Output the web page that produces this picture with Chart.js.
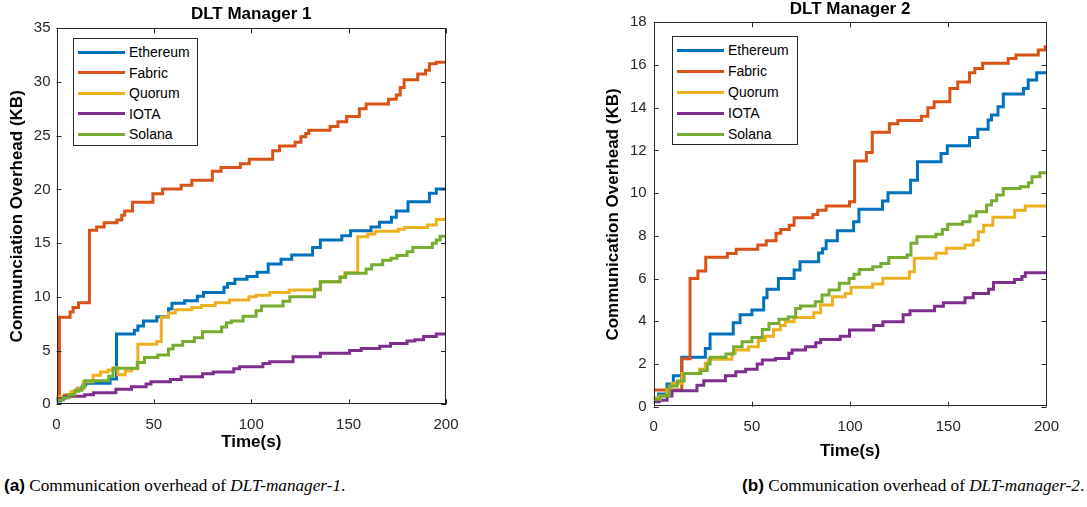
<!DOCTYPE html>
<html>
<head>
<meta charset="utf-8">
<script src="https://cdn.jsdelivr.net/npm/chart.js@4.4.1/dist/chart.umd.min.js"></script>
<style>
    body {
        margin: 0;
        width: 1087px;
        height: 507px;
        background: #ffffff;
        position: relative;
        overflow: hidden;
        font-family: "Liberation Sans", Arial, sans-serif;
    }
    .panel {
        position: absolute;
        top: 0;
    }
    .legend {
        position: absolute;
        border: 1px solid #262626;
        background: #ffffff;
        box-sizing: border-box;
        font-size: 14px;
        color: #000;
    }
    .legend .item {
        position: absolute;
        height: 16px;
        line-height: 16px;
        white-space: nowrap;
    }
    .legend .swatch {
        position: absolute;
        top: 6.5px;
        height: 3px;
    }
    .caption {
        position: absolute;
        top: 475px;
        font-family: "Liberation Serif", "Times New Roman", serif;
        font-size: 17.2px;
        color: #000;
        white-space: nowrap;
    }
    .caption b {
        font-family: "Liberation Sans", Arial, sans-serif;
        font-weight: bold;
    }
</style>
</head>
<body>

<div class="panel" style="left:0px"><canvas id="chart1"></canvas></div>
<div class="panel" style="left:540px"><canvas id="chart2"></canvas></div>

<div class="legend" id="legend1" style="left:73px; top:38px; width:125px; height:108px"></div>
<div class="legend" id="legend2" style="left:672px; top:36px; width:126px; height:109px"></div>

<div class="caption" style="left:4px"><b>(a)</b> Communication overhead of <i>DLT-manager-1</i>.</div>
<div class="caption" style="left:742px"><b>(b)</b> Communication overhead of <i>DLT-manager-2</i>.</div>

<script>
// series names and matlab default colours
const seriesNames = ['Ethereum', 'Fabric', 'Quorum', 'IOTA', 'Solana'];
const seriesColors = ['#0072BD', '#D95319', '#EDB120', '#7E2F8E', '#77AC30'];

const xTicks = [0, 50, 100, 150, 200];
const yTicks1 = [0, 5, 10, 15, 20, 25, 30, 35];
const yTicks2 = [0, 2, 4, 6, 8, 10, 12, 14, 16, 18];

// ---- DLT Manager 1 : time (s) where the step starts, value (KB) after the step
const eth1T = [0, 2, 5, 8, 11, 13.5, 15, 27.5, 30.8, 40, 41.8, 44.7, 51.5, 57.5, 59.3, 65.8, 72.3, 75.5, 86, 87.8, 91.6, 97.8, 103, 108.7, 115.3, 120.8, 131.5, 135.5, 146.5, 151, 161.5, 165.8, 172, 174.5, 180.5, 191.5, 195, 200];
const eth1V = [0.3, 0.6, 0.9, 1.2, 1.5, 1.8, 1.95, 2.35, 6.55, 6.9, 7.3, 7.75, 8.15, 8.9, 9.4, 9.65, 10.05, 10.4, 10.9, 11.25, 11.65, 11.9, 12.3, 13.05, 13.5, 13.9, 14.6, 15.3, 15.7, 16.15, 16.5, 16.95, 17.4, 18.0, 18.85, 19.65, 20.05, 20.1];

const fab1T = [0, 1.5, 7, 8.5, 11.3, 16.9, 20.6, 24.5, 31, 33.5, 35, 39, 49.5, 54.5, 64, 69.5, 80, 84.5, 94.4, 99, 111, 114.5, 122.5, 125.5, 128, 129.5, 140.5, 144.5, 149, 155.5, 159, 170.5, 174.5, 176.5, 178.5, 185.5, 189.5, 191.5, 195, 200];
const fab1V = [0.5, 8.1, 8.6, 9.0, 9.45, 16.2, 16.5, 16.9, 17.15, 17.6, 18.0, 18.8, 19.6, 20.05, 20.4, 20.85, 21.7, 22.05, 22.4, 22.8, 23.6, 24.05, 24.4, 24.9, 25.2, 25.5, 25.85, 26.3, 26.8, 27.5, 27.95, 28.4, 28.8, 29.5, 30.2, 30.75, 31.1, 31.7, 31.85, 31.9];

const quo1T = [0, 4, 7.5, 10.5, 13.8, 18.8, 22.6, 26.5, 29.5, 31.5, 35.3, 38.5, 41.8, 51.5, 53.8, 57.5, 61, 69.5, 74.5, 81.5, 88.8, 98.8, 102.5, 109.5, 119.5, 135.5, 145.8, 148, 154.7, 159.8, 163.5, 175.5, 178.7, 190.5, 195, 200];
const quo1V = [0.7, 0.9, 1.2, 1.45, 2.1, 2.7, 3.0, 3.2, 3.4, 2.75, 3.1, 3.3, 5.6, 5.85, 8.1, 8.5, 8.8, 9.0, 9.2, 9.45, 9.7, 10.0, 10.15, 10.4, 10.65, 11.4, 11.9, 12.25, 15.6, 15.85, 16.1, 16.3, 16.45, 16.7, 17.2, 17.3];

const iota1T = [0, 4, 14.5, 19, 30.5, 38.5, 46, 48.5, 58.5, 64, 75, 80.5, 91, 94, 106, 109.5, 121.5, 135.5, 150.5, 156.5, 166, 171.5, 180, 184, 188.5, 195, 200];
const iota1V = [0.55, 0.75, 0.9, 1.08, 1.4, 1.64, 1.9, 2.1, 2.3, 2.57, 2.85, 3.0, 3.3, 3.5, 3.8, 3.96, 4.43, 4.75, 5.0, 5.2, 5.4, 5.67, 5.9, 6.0, 6.3, 6.55, 6.6];

const sol1T = [0, 3.5, 6.5, 9.5, 13, 14.5, 26.8, 29, 41.5, 45.2, 52, 57.5, 59.8, 64.8, 70.8, 75, 84.8, 87.3, 89.8, 95.8, 102.5, 105.3, 116.3, 119.8, 132.5, 135.5, 145.5, 148.5, 159, 161.8, 167.5, 171.8, 174.8, 180, 183, 193, 195, 197, 200];
const sol1V = [0.4, 0.6, 0.9, 1.3, 1.6, 2.2, 2.6, 3.35, 3.9, 4.35, 4.6, 5.15, 5.5, 5.85, 6.2, 6.75, 7.2, 7.6, 7.75, 8.2, 8.7, 9.15, 9.6, 10.0, 10.7, 11.4, 11.8, 12.2, 12.6, 13.0, 13.4, 13.6, 13.85, 14.2, 14.6, 15.0, 15.3, 15.65, 15.7];

// ---- DLT Manager 2
const eth2T = [0, 2.5, 6.8, 10, 14.3, 26.3, 28.7, 40.5, 44, 50, 56, 57.7, 63.5, 71.5, 74.5, 84, 86, 87.8, 93.5, 101.8, 104.5, 116.5, 119.3, 130.8, 134.3, 146.3, 149.5, 160.8, 165, 170.3, 172, 175.3, 178, 188.3, 190.7, 195, 200];
const eth2V = [0.39, 0.6, 1.06, 1.45, 2.31, 2.73, 3.4, 3.93, 4.3, 4.53, 5.1, 5.5, 6.0, 6.4, 6.79, 7.2, 7.4, 7.77, 8.24, 8.66, 9.24, 9.63, 10.02, 10.6, 11.47, 11.86, 12.22, 12.61, 12.99, 13.42, 13.66, 14.05, 14.64, 14.9, 15.3, 15.64, 15.64];

const fab2T = [0, 14.3, 18.5, 22.5, 26.5, 37.5, 42, 53, 57.3, 62.3, 64.7, 69, 71.5, 81, 83.5, 87.8, 99.7, 102.3, 108.3, 111.3, 120, 124.3, 136.3, 139.6, 142.8, 150.8, 154.8, 160.8, 163.5, 167.5, 180.5, 184.5, 195.8, 199.3, 200];
const fab2V = [0.78, 2.25, 6.0, 6.35, 7.0, 7.17, 7.37, 7.57, 7.77, 8.12, 8.3, 8.5, 8.85, 9.0, 9.2, 9.4, 9.6, 11.5, 11.9, 12.85, 13.25, 13.4, 13.6, 14.0, 14.28, 14.9, 15.2, 15.64, 15.84, 16.08, 16.3, 16.47, 16.7, 16.85, 16.85];

const quo2T = [0, 3, 6.8, 9.3, 14.5, 23.3, 26.3, 27.8, 39.8, 41.5, 48.3, 53.3, 56.8, 61, 64.5, 67, 71.5, 81.5, 85, 91, 97.5, 100.5, 111.5, 116.7, 130.2, 132.7, 143.7, 149, 158.5, 162.7, 165.3, 168, 172.7, 183.8, 189.2, 200];
const quo2V = [0.4, 0.5, 0.8, 1.1, 1.56, 1.75, 2.03, 2.22, 2.5, 2.65, 2.81, 3.1, 3.3, 3.6, 3.8, 3.98, 4.18, 4.4, 4.76, 5.15, 5.3, 5.59, 5.74, 6.01, 6.32, 6.95, 7.18, 7.42, 7.57, 7.8, 8.19, 8.5, 8.87, 9.2, 9.4, 9.4];

const iota2T = [0, 2.8, 6.8, 9.3, 22, 25.5, 36.5, 41.8, 46.8, 52.7, 55.3, 62, 68.8, 70.5, 77.3, 82.5, 85, 95, 99.7, 112, 116.7, 127, 130.5, 143, 147.5, 158.5, 162.7, 170.5, 173, 183.7, 187.5, 189.2, 200];
const iota2V = [0.23, 0.3, 0.5, 0.75, 1.0, 1.22, 1.45, 1.64, 1.75, 2.0, 2.19, 2.26, 2.5, 2.65, 2.81, 3.0, 3.15, 3.3, 3.59, 3.8, 3.98, 4.3, 4.49, 4.7, 4.87, 5.1, 5.3, 5.5, 5.81, 5.96, 6.1, 6.27, 6.27];

const sol2T = [0, 3.5, 7.8, 12, 15.5, 24, 27.3, 28.7, 36.8, 40.7, 45, 50, 55.3, 58.7, 63.8, 68.5, 72.3, 74.7, 82.3, 85.7, 89.3, 94.5, 99.5, 102, 104.7, 111.5, 115.7, 119.7, 129, 131, 134, 143.7, 147, 149.7, 157.3, 161, 164.3, 169.5, 172, 174.6, 178, 186.6, 190.8, 192.6, 196.6, 200];
const sol2V = [0.35, 0.5, 0.97, 1.2, 1.56, 1.7, 2.0, 2.31, 2.47, 2.81, 3.04, 3.24, 3.62, 3.9, 4.09, 4.2, 4.6, 4.71, 4.91, 5.23, 5.46, 5.78, 6.0, 6.2, 6.43, 6.55, 6.71, 6.99, 7.1, 7.65, 7.96, 8.07, 8.3, 8.54, 8.66, 8.93, 9.13, 9.44, 9.64, 9.91, 10.22, 10.3, 10.49, 10.77, 10.96, 10.96];

const FONT = '"Liberation Sans", Arial, Helvetica, sans-serif';
const INK = '#262626';

function toPoints(ts, vs) {
    return ts.map((t, i) => ({ x: t, y: vs[i] }));
}

// box round the plot with inward ticks on all four sides, like matlab
const matlabBox = {
    id: 'matlabBox',
    afterDatasetsDraw(chart) {
        const { ctx, chartArea: a, scales } = chart;
        const len = 5;
        ctx.save();
        ctx.strokeStyle = INK;
        ctx.lineWidth = 1;
        ctx.strokeRect(Math.round(a.left) + 0.5, Math.round(a.top) + 0.5,
            Math.round(a.width) - 1, Math.round(a.height) - 1);
        ctx.beginPath();
        scales.x.ticks.forEach(t => {
            const px = Math.round(scales.x.getPixelForValue(t.value)) + 0.5;
            ctx.moveTo(px, a.bottom); ctx.lineTo(px, a.bottom - len);
            ctx.moveTo(px, a.top); ctx.lineTo(px, a.top + len);
        });
        scales.y.ticks.forEach(t => {
            const py = Math.round(scales.y.getPixelForValue(t.value)) + 0.5;
            ctx.moveTo(a.left, py); ctx.lineTo(a.left + len, py);
            ctx.moveTo(a.right, py); ctx.lineTo(a.right - len, py);
        });
        ctx.stroke();
        ctx.restore();
    }
};

// title centred over the plot area rather than the whole canvas
const plotTitle = {
    id: 'plotTitle',
    afterDraw(chart, args, opts) {
        const { ctx, chartArea: a } = chart;
        ctx.save();
        ctx.font = 'bold 17px ' + FONT;
        ctx.fillStyle = '#000';
        ctx.textAlign = 'center';
        ctx.textBaseline = 'middle';
        ctx.fillText(opts.text, (a.left + a.right) / 2, opts.y);
        ctx.restore();
    }
};

function makeChart(id, cfg) {
    const canvas = document.getElementById(id);
    canvas.style.width = cfg.w + 'px';
    canvas.style.height = cfg.h + 'px';
    canvas.width = cfg.w;
    canvas.height = cfg.h;

    const datasets = seriesNames.map((name, i) => ({
        label: name,
        data: toPoints(cfg.series[i][0], cfg.series[i][1]),
        borderColor: seriesColors[i],
        backgroundColor: seriesColors[i],
        borderWidth: 3,
        pointRadius: 0,
        stepped: 'before',
        order: seriesNames.length - i
    }));

    return new Chart(canvas.getContext('2d'), {
        type: 'line',
        data: { datasets },
        plugins: [matlabBox, plotTitle],
        options: {
            responsive: false,
            animation: false,
            events: [],
            layout: { padding: { left: 0, right: cfg.padRight, top: cfg.padTop, bottom: 0 } },
            plugins: {
                legend: { display: false },
                tooltip: { enabled: false },
                title: { display: false },
                plotTitle: { text: cfg.title, y: cfg.titleY }
            },
            scales: {
                x: {
                    type: 'linear',
                    min: 0,
                    max: 200,
                    afterBuildTicks: s => { s.ticks = xTicks.map(v => ({ value: v })); },
                    afterFit: s => { s.height = cfg.xAxisH; },
                    grid: { display: false, drawTicks: false },
                    border: { display: false },
                    ticks: { color: INK, padding: cfg.xTickPad, font: { family: FONT, size: 15 }, maxRotation: 0 },
                    title: {
                        display: true,
                        text: 'Time(s)',
                        color: '#000',
                        font: { family: FONT, size: 17, weight: 'bold', lineHeight: 1.2 },
                        padding: { top: 0, bottom: cfg.xTitlePad }
                    }
                },
                y: {
                    type: 'linear',
                    min: 0,
                    max: cfg.yMax,
                    afterBuildTicks: s => { s.ticks = cfg.yTicks.map(v => ({ value: v })); },
                    afterFit: s => { s.width = cfg.yAxisW; },
                    grid: { display: false, drawTicks: false },
                    border: { display: false },
                    ticks: { color: INK, padding: cfg.yTickPad, font: { family: FONT, size: 15 } },
                    title: {
                        display: true,
                        text: cfg.yTitle,
                        color: '#000',
                        font: { family: FONT, size: 17, weight: 'bold', lineHeight: 1.2 },
                        padding: { top: cfg.yTitlePad, bottom: 0 }
                    }
                }
            }
        }
    });
}

function makeLegend(id, cfg) {
    const box = document.getElementById(id);
    seriesNames.forEach((name, i) => {
        const item = document.createElement('div');
        item.className = 'item';
        item.style.left = '0px';
        item.style.top = (cfg.firstRow + i * cfg.rowStep - 8) + 'px';
        const sw = document.createElement('span');
        sw.className = 'swatch';
        sw.style.left = cfg.lineX + 'px';
        sw.style.width = cfg.lineW + 'px';
        sw.style.background = seriesColors[i];
        const txt = document.createElement('span');
        txt.style.position = 'absolute';
        txt.style.left = cfg.textX + 'px';
        txt.textContent = name;
        item.appendChild(sw);
        item.appendChild(txt);
        box.appendChild(item);
    });
}

// the "200" label overflow keeps ~24px right of the plot, so the canvases are a bit wider
makeChart('chart1', {
    w: 470, h: 460, padRight: 5, padTop: 28.3,
    title: 'DLT Manager 1', titleY: 14,
    yTitle: 'Communciation Overhead (KB)',
    yMax: 35, yTicks: yTicks1,
    yAxisW: 56.5, yTickPad: 6, yTitlePad: 7,
    xAxisH: 55.7, xTickPad: 11.5, xTitlePad: 7,
    series: [[eth1T, eth1V], [fab1T, fab1V], [quo1T, quo1V], [iota1T, iota1V], [sol1T, sol1V]]
});

makeChart('chart2', {
    w: 530, h: 470, padRight: 5, padTop: 22.3,
    title: 'DLT Manager 2', titleY: 9,
    yTitle: 'Communication Overhead (KB)',
    yMax: 18, yTicks: yTicks2,
    yAxisW: 113.7, yTickPad: 7, yTitlePad: 63,
    xAxisH: 63.3, xTickPad: 11, xTitlePad: 8,
    series: [[eth2T, eth2V], [fab2T, fab2V], [quo2T, quo2V], [iota2T, iota2V], [sol2T, sol2V]]
});

// legend boxes sit inside the top-left of each plot
makeLegend('legend1', { firstRow: 13, rowStep: 20.6, lineX: 4, lineW: 47, textX: 55 });
makeLegend('legend2', { firstRow: 13, rowStep: 21, lineX: 4, lineW: 47, textX: 55 });
</script>
</body>
</html>
